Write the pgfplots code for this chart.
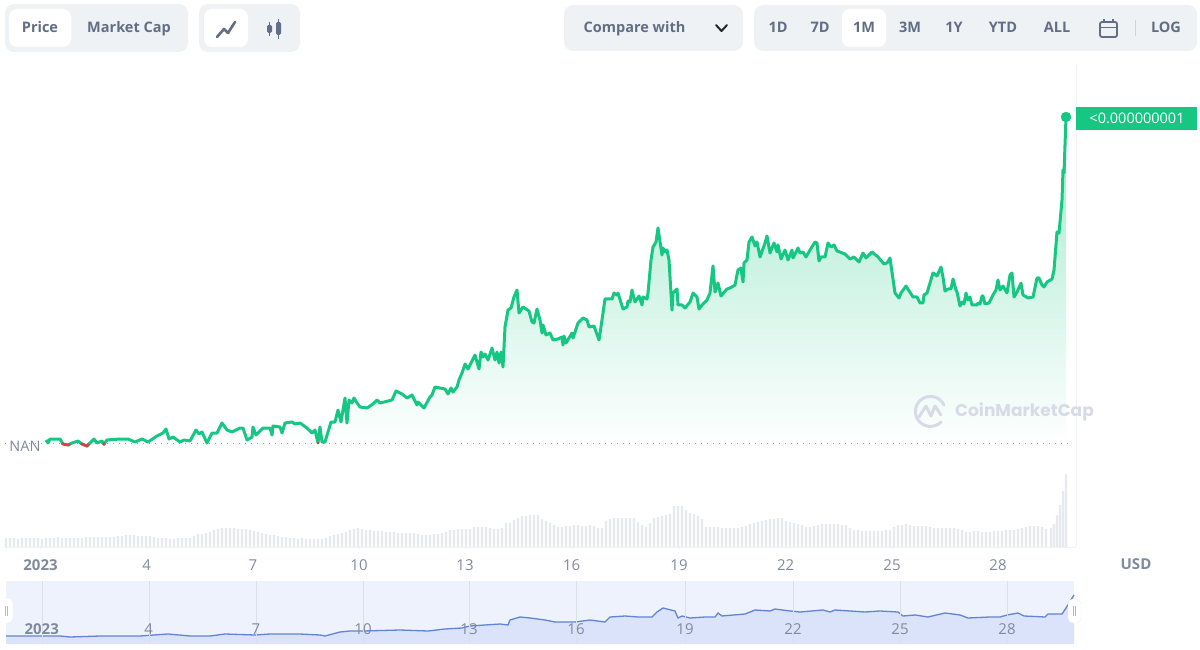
\documentclass[border=0pt]{standalone}
\usepackage{fontspec}
\setmainfont{Open Sans}
\newfontfamily\logofont{Poppins}
\usepackage{pgfplots}
\usepackage{pgfplotstable}
\pgfplotsset{compat=1.18}

\definecolor{cmcgreen}{HTML}{16C784}
\definecolor{cmcred}{HTML}{EA3943}
\definecolor{btnbg}{HTML}{EFF2F5}
\definecolor{btntext}{HTML}{616E85}
\definecolor{ticktext}{HTML}{808A9D}
\definecolor{faint}{HTML}{F0F1F4}
\definecolor{volbar}{HTML}{E6E9EE}
\definecolor{navbg}{HTML}{EDF2FD}
\definecolor{navfill}{HTML}{DAE3FA}
\definecolor{navline}{HTML}{6284D2}
\definecolor{navgrid}{HTML}{D9DFEC}
\definecolor{wmark}{HTML}{D6DBE7}

% price line, x in chart pixels, y in pixels above the NAN baseline
\pgfplotstableread[row sep=\\]{
x y \\
46 3 \\ 48 0 \\ 50 4 \\ 55 4 \\ 60 4 \\ 63 -1 \\ 68 -2 \\ 72 0 \\ 78 2 \\ 82 -1 \\ 87 -3 \\ 90 0 \\ 94 4 \\ 97 0 \\ 102 2 \\ 104 -1 \\ 107 3 \\ 120 4 \\ 128 4 \\ 135 1 \\ 142 4 \\ 148 1 \\ 157 7 \\ 163 10 \\ 166 14 \\ 169 4 \\ 173 6 \\ 180 1 \\ 184 3 \\ 190 2 \\ 196 13 \\ 199 9 \\ 202 11 \\ 207 0 \\ 212 10 \\ 217 10 \\ 222 20 \\ 227 13 \\ 232 11 \\ 240 15 \\ 243 15 \\ 247 3 \\ 252 6 \\ 253 16 \\ 256 8 \\ 263 15 \\ 270 15 \\ 272 8 \\ 273 17 \\ 280 16 \\ 282 10 \\ 285 20 \\ 292 21 \\ 295 19 \\ 300 20 \\ 307 15 \\ 312 10 \\ 315 13 \\ 318 0 \\ 320 16 \\ 322 1 \\ 325 1 \\ 331 21 \\ 335 21 \\ 338 33 \\ 341 21 \\ 345 45 \\ 347 20 \\ 349 43 \\ 352 40 \\ 354 45 \\ 357 40 \\ 360 36 \\ 367 35 \\ 373 39 \\ 377 43 \\ 380 40 \\ 392 43 \\ 396 52 \\ 402 49 \\ 407 45 \\ 412 48 \\ 417 38 \\ 418 41 \\ 424 35 \\ 430 46 \\ 432 48 \\ 435 56 \\ 445 54 \\ 448 49 \\ 451 55 \\ 453 51 \\ 457 56 \\ 459 63 \\
462 70 \\ 465 79 \\ 468 74 \\ 475 88 \\ 479 74 \\ 481 91 \\ 483 86 \\ 485 89 \\ 488 83 \\ 492 95 \\ 495 83 \\ 497 91 \\ 499 80 \\ 501 91 \\ 503 76 \\ 505 116 \\ 508 133 \\ 511 135 \\ 514 146 \\ 517 153 \\ 519 130 \\ 523 136 \\ 529 132 \\ 532 121 \\ 534 120 \\ 537 134 \\ 540 123 \\ 542 110 \\ 543 118 \\ 546 108 \\ 550 110 \\ 553 103 \\ 558 104 \\ 562 106 \\ 563 98 \\ 564 107 \\ 566 100 \\ 572 110 \\ 573 105 \\ 578 120 \\ 583 125 \\ 587 123 \\ 589 116 \\ 594 117 \\ 599 103 \\ 602 123 \\ 605 144 \\ 612 144 \\ 614 150 \\ 617 148 \\ 618 150 \\ 623 134 \\ 627 136 \\ 628 142 \\ 630 141 \\ 632 153 \\ 635 141 \\ 639 147 \\ 642 138 \\ 643 146 \\ 647 144 \\ 648 150 \\ 651 183 \\ 653 196 \\ 656 201 \\ 658 215 \\ 662 188 \\ 663 195 \\ 665 191 \\ 667 193 \\ 669 183 \\ 672 133 \\ 673 150 \\ 677 154 \\ 678 138 \\ 682 138 \\ 685 135 \\ 690 141 \\ 693 150 \\ 697 146 \\ 699 134 \\ 702 138 \\ 707 143 \\ 710 150 \\ 713 177 \\ 715 151 \\ 718 160 \\ 721 147 \\ 727 154 \\ 730 155 \\ 735 158 \\ 738 173 \\ 741 175 \\ 743 161 \\ 744 180 \\ 747 183 \\ 749 201 \\ 752 206 \\ 755 197 \\ 757 201 \\ 760 186 \\ 765 200 \\ 767 207 \\ 770 190 \\ 774 200 \\ 777 191 \\ 778 198 \\ 781 184 \\ 785 193 \\ 788 183 \\ 792 193 \\ 793 185 \\ 798 195 \\ 800 190 \\ 803 191 \\ 806 186 \\ 810 193 \\ 815 201 \\ 817 200 \\ 819 182 \\ 821 186 \\ 825 186 \\ 828 200 \\ 831 196 \\ 834 198 \\ 837 192 \\ 845 189 \\ 850 184 \\ 854 186 \\ 859 181 \\ 863 190 \\ 866 185 \\ 872 191 \\ 878 186 \\ 884 179 \\ 887 180 \\ 890 185 \\ 895 150 \\ 899 145 \\ 901 150 \\ 906 157 \\ 913 146 \\ 917 146 \\ 920 140 \\ 923 140 \\ 924 148 \\ 927 150 \\ 930 160 \\ 933 170 \\ 937 167 \\ 941 176 \\ 943 166 \\ 945 152 \\ 948 154 \\ 951 154 \\ 953 164 \\ 956 153 \\ 957 151 \\ 960 137 \\ 962 141 \\ 964 139 \\ 966 150 \\ 968 143 \\ 970 146 \\ 972 138 \\ 977 138 \\ 978 140 \\ 980 139 \\ 982 147 \\ 983 147 \\ 985 139 \\ 989 140 \\ 993 148 \\ 996 153 \\ 998 163 \\ 1000 153 \\ 1003 157 \\ 1007 150 \\ 1010 168 \\ 1012 170 \\ 1014 146 \\ 1017 151 \\ 1021 160 \\ 1023 148 \\ 1028 145 \\ 1033 146 \\ 1037 165 \\ 1039 165 \\ 1042 158 \\ 1044 156 \\ 1047 161 \\ 1052 164 \\ 1054 173 \\ 1057 211 \\ 1059 210 \\ 1062 243 \\ 1063 273 \\ 1064 270 \\ 1066 326 \\
}\pricedata

% volume bars
\pgfplotstableread[row sep=\\]{
x h \\
6 9 \\ 10 9 \\ 14 9 \\ 18 8 \\ 22 9 \\ 26 9 \\ 30 9 \\ 34 9 \\ 38 9 \\ 42 8 \\ 46 9 \\ 50 9 \\ 54 9 \\ 58 10 \\ 62 9 \\ 66 9 \\ 70 9 \\ 74 9 \\ 78 9 \\ 82 9 \\ 86 10 \\ 90 10 \\ 94 10 \\ 98 10 \\ 102 10 \\ 106 10 \\ 110 10 \\ 114 10 \\ 118 11 \\ 122 11 \\ 126 12 \\ 130 12 \\ 134 12 \\ 138 11 \\ 142 11 \\ 146 11 \\ 150 11 \\ 154 10 \\ 158 9 \\ 162 9 \\ 166 9 \\ 170 8 \\ 174 8 \\ 178 9 \\ 182 9 \\ 186 9 \\ 190 9 \\ 194 11 \\ 198 13 \\ 202 13 \\ 206 14 \\ 210 15 \\ 214 17 \\ 218 18 \\ 222 19 \\ 226 19 \\ 230 19 \\ 234 19 \\ 238 18 \\ 242 18 \\ 246 18 \\ 250 17 \\ 254 16 \\ 258 15 \\ 262 14 \\ 266 13 \\ 270 12 \\ 274 12 \\ 278 11 \\ 282 10 \\ 286 10 \\ 290 9 \\ 294 9 \\ 298 8 \\ 302 9 \\ 306 8 \\ 310 8 \\ 314 8 \\ 318 8 \\ 322 8 \\ 326 9 \\ 330 11 \\ 334 12 \\ 338 13 \\ 342 14 \\ 346 15 \\ 350 17 \\ 354 18 \\ 358 19 \\ 362 18 \\ 366 17 \\ 370 17 \\ 374 16 \\ 378 16 \\ 382 16 \\ 386 15 \\ 390 15 \\ 394 15 \\ 398 14 \\ 402 14 \\ 406 14 \\ 410 14 \\ 414 14 \\ 418 13 \\ 422 12 \\ 426 12 \\ 430 12 \\ 434 13 \\ 438 13 \\ 442 14 \\ 446 15 \\ 450 17 \\ 454 17 \\ 458 18 \\ 462 18 \\ 466 18 \\ 470 18 \\ 474 20 \\ 478 20 \\ 482 20 \\ 486 20 \\ 490 19 \\ 494 18 \\ 498 18 \\ 502 19 \\ 506 24 \\ 510 24 \\ 514 27 \\ 518 29 \\ 522 31 \\ 526 31 \\ 530 32 \\ 534 32 \\ 538 32 \\ 542 28 \\ 546 26 \\ 550 24 \\ 554 22 \\ 558 20 \\ 562 20 \\ 566 21 \\ 570 21 \\ 574 22 \\ 578 22 \\ 582 21 \\ 586 21 \\ 590 22 \\ 594 21 \\ 598 19 \\ 602 19 \\ 606 26 \\ 610 28 \\ 614 29 \\ 618 29 \\ 622 29 \\ 626 29 \\ 630 29 \\ 634 29 \\ 638 25 \\ 642 22 \\ 646 20 \\ 650 24 \\ 654 29 \\ 658 30 \\ 662 31 \\ 666 32 \\ 670 33 \\ 674 41 \\ 678 41 \\ 682 41 \\ 686 37 \\ 690 34 \\ 694 33 \\ 698 31 \\ 702 28 \\ 706 20 \\ 710 20 \\ 714 20 \\ 718 20 \\ 722 19 \\ 726 19 \\ 730 19 \\ 734 19 \\ 738 19 \\ 742 20 \\ 746 21 \\ 750 23 \\ 754 24 \\ 758 25 \\ 762 26 \\ 766 27 \\ 770 28 \\ 774 28 \\ 778 29 \\ 782 29 \\ 786 26 \\ 790 25 \\ 794 24 \\ 798 23 \\ 802 22 \\ 806 20 \\ 810 20 \\ 814 21 \\ 818 22 \\ 822 23 \\ 826 23 \\ 830 23 \\ 834 23 \\ 838 23 \\ 842 22 \\ 846 22 \\ 850 19 \\ 854 17 \\ 858 17 \\ 862 16 \\ 866 16 \\ 870 16 \\ 874 16 \\ 878 16 \\ 882 16 \\ 886 17 \\ 890 17 \\ 894 20 \\ 898 22 \\ 902 22 \\ 906 23 \\ 910 22 \\ 914 21 \\ 918 21 \\ 922 21 \\ 926 21 \\ 930 20 \\ 934 19 \\ 938 19 \\ 942 19 \\ 946 19 \\ 950 19 \\ 954 19 \\ 958 18 \\ 962 17 \\ 966 15 \\ 970 15 \\ 974 16 \\ 978 16 \\ 982 15 \\ 986 15 \\ 990 15 \\ 994 16 \\ 998 16 \\ 1002 16 \\ 1006 17 \\ 1010 17 \\ 1014 17 \\ 1018 18 \\ 1022 19 \\ 1026 20 \\ 1030 21 \\ 1034 21 \\ 1038 21 \\ 1042 20 \\ 1046 18 \\ 1051 19 \\ 1054 23 \\ 1057 32 \\ 1060 42 \\ 1063 56 \\ 1066 73 \\
}\voldata

% navigator strip, y in pixels above the strip's bottom
\pgfplotstableread[row sep=\\]{
x y \\
6 8 \\ 60 8 \\ 70 7 \\ 100 8 \\ 140 8 \\ 168 10 \\ 190 8 \\ 210 8 \\ 225 10 \\ 255 9 \\ 270 10 \\ 300 10 \\ 320 9 \\ 325 8 \\ 340 12 \\ 350 13 \\ 363 13 \\ 400 14 \\ 428 13 \\ 445 15 \\ 462 16 \\ 470 18 \\ 500 20 \\ 508 19 \\ 510 24 \\ 520 27 \\ 530 26 \\ 545 24 \\ 555 22 \\ 575 22 \\ 590 24 \\ 605 22 \\ 610 27 \\ 625 28 \\ 638 27 \\ 652 27 \\ 657 32 \\ 663 36 \\ 675 33 \\ 678 26 \\ 682 28 \\ 690 26 \\ 705 27 \\ 715 27 \\ 718 31 \\ 722 28 \\ 745 30 \\ 755 34 \\ 770 33 \\ 775 35 \\ 790 33 \\ 800 32 \\ 823 34 \\ 830 32 \\ 835 34 \\ 865 32 \\ 880 33 \\ 898 32 \\ 903 28 \\ 915 29 \\ 928 27 \\ 945 31 \\ 960 29 \\ 968 26 \\ 990 27 \\ 1000 27 \\ 1007 29 \\ 1018 31 \\ 1024 28 \\ 1045 27 \\ 1048 30 \\ 1062 30 \\ 1066 36 \\ 1074 49 \\
}\navdata

\newcommand{\btn}[2]{\node[text=btntext,anchor=base,font={\fontsize{14.5}{18}\selectfont\bfseries}] at (#1,33) {#2};}

\begin{document}
\begin{tikzpicture}[x=1pt,y=1pt]
\path[use as bounding box] (0,0) rectangle (1200,649);

% volume underneath
\begin{axis}[
    at={(5pt,102pt)}, anchor=south west, scale only axis,
    width=1071pt, height=482pt,
    xmin=5, xmax=1076, ymin=0, ymax=482,
    hide axis]
  \addplot[ybar, bar width=2.4pt, bar shift=0pt, draw=none, fill=volbar] table[x=x,y=h] {\voldata};
\end{axis}

% price panel
\begin{axis}[
    at={(5pt,102pt)}, anchor=south west, scale only axis,
    width=1071pt, height=482pt,
    xmin=5, xmax=1076, ymin=-104, ymax=378,
    axis x line=bottom, axis y line=right,
    axis line style={draw=faint,-},
    ytick=\empty,
    xtick={40.5,146.7,253,359,465,571.7,679,785.7,892,998},
    xticklabels={\textbf{2023},4,7,10,13,16,19,22,25,28},
    x tick style={draw=faint},
    major tick length=3pt,
    xticklabel style={text=ticktext,font=\fontsize{15}{18}\selectfont,anchor=center,yshift=-17pt},
    clip=false]
  \addplot[draw=none, shade, top color=cmcgreen!39, bottom color=white, forget plot] table[x=x,y=y] {\pricedata} \closedcycle;
  \addplot[densely dotted, draw=ticktext!80, dash pattern=on 1pt off 5pt, line width=0.8pt, forget plot] coordinates {(5,0) (1072,0)};
  \addplot[cmcgreen, line width=3pt, line join=round] table[x=x,y=y] {\pricedata};
  \addplot[cmcred, line width=2.6pt] coordinates {(62,0) (63,-1) (68,-2) (70,-1)};
  \addplot[cmcred, line width=2.6pt] coordinates {(81,0) (82,-1) (87,-3) (89,-1)};
  \addplot[cmcred, line width=2.6pt] coordinates {(103,0) (104,-1) (105,0)};
  \addplot[cmcred, line width=2.6pt] coordinates {(317,0) (318,0) (319,0)};
  \addplot[only marks, mark=*, mark size=5pt, cmcgreen] coordinates {(1066,326)};
\end{axis}

% navigator
\begin{axis}[
    at={(6pt,5pt)}, anchor=south west, scale only axis,
    width=1068pt, height=63pt,
    xmin=6, xmax=1074, ymin=0, ymax=63,
    axis on top,
    axis line style={draw=none},
    axis background/.style={fill=navbg},
    ytick=\empty,
    xtick={41.7,148.7,256,363,469,576,685,793,900,1007},
    xticklabels={\textbf{2023},4,7,10,13,16,19,22,25,28},
    xmajorgrids, grid style={draw=navgrid},
    major tick length=0pt,
    xticklabel style={text=ticktext,font=\fontsize{15}{18}\selectfont,anchor=center,yshift=15pt},
    clip=false]
  \addplot[draw=none, fill=navfill, forget plot] table[x=x,y=y] {\navdata} \closedcycle;
  \addplot[navline, line width=1.3pt] table[x=x,y=y] {\navdata};
\end{axis}

% everything else in screen coordinates, y downward
\begin{scope}[y=-1pt,yshift=649pt]
  \fill[btnbg,rounded corners=9pt] (5,4) rectangle (188,52);
  \fill[white,rounded corners=8pt] (9,9) rectangle (71,47);
  \btn{40}{Price}
  \btn{129}{Market Cap}
  \fill[btnbg,rounded corners=9pt] (199,4) rectangle (300,52);
  \fill[white,rounded corners=8pt] (204,9) rectangle (248,47);
  \draw[btntext,line width=2.6pt,line join=round,line cap=round] (217,37) -- (224,29) -- (228,33) -- (235,22);
  \draw[btntext,line width=1.2pt] (269.5,22) -- (269.5,36) (278.5,19) -- (278.5,39);
  \fill[btntext,rounded corners=1.5pt] (267,25) rectangle (272,33);
  \fill[btntext,rounded corners=1.5pt] (276,22) rectangle (281,35);

  \fill[btnbg,rounded corners=9pt] (564,5) rectangle (743,51);
  \btn{634.5}{Compare with}
  \draw[black!85,line width=2pt,line cap=round,line join=round] (716,25) -- (721.5,31) -- (727,25);
  \fill[btnbg,rounded corners=9pt] (754,5) rectangle (1197,51);
  \fill[white,rounded corners=8pt] (842,9) rectangle (886,47);
  \btn{778}{1D}
  \btn{820}{7D}
  \btn{864}{1M}
  \btn{910}{3M}
  \btn{954}{1Y}
  \btn{1003}{YTD}
  \btn{1057}{ALL}
  \draw[btntext,line width=1.8pt,rounded corners=2pt] (1100,22) rectangle (1117,37);
  \draw[btntext,line width=1.6pt] (1100,27.5) -- (1117,27.5) (1104,19.5) -- (1104,23) (1113,19.5) -- (1113,23);
  \draw[btntext!30,line width=0.8pt] (1135,20) -- (1135,36);
  \btn{1166}{LOG}

  \fill[cmcgreen] (1076,107) rectangle (1197,130);
  \node[text=white,font=\fontsize{14.5}{17}\selectfont] at (1137,118.5) {<0.000000001};
  \node[text=ticktext,font=\fontsize{14.5}{17}\selectfont] at (25,446) {NAN};
  \node[text=ticktext,font=\fontsize{15}{18}\selectfont\bfseries] at (1136,564) {USD};

  % watermark
  \draw[wmark,line width=3pt,line cap=round] (941,422) arc[start angle=45,end angle=335,radius=15];
  \draw[wmark,line width=3pt,line cap=round,line join=round] (919,417) -- (926,406) -- (931,416) -- (935,406) -- (941,415);
  \node[text=wmark,font=\logofont\fontsize{17}{21}\selectfont\bfseries,anchor=west,inner sep=0pt] at (955,412) {CoinMarketCap};

  % navigator handles
  \fill[white,rounded corners=5pt,draw=black!6] (-6,598) rectangle (13,623);
  \draw[ticktext!60,line width=0.8pt] (5,606) -- (5,616) (7.5,606) -- (7.5,616);
  \fill[white,rounded corners=5pt,draw=black!6] (1068,599) rectangle (1081,623);
  \draw[ticktext!60,line width=0.8pt] (1073,606) -- (1073,616) (1075.5,606) -- (1075.5,616);
\end{scope}
\end{tikzpicture}
\end{document}
